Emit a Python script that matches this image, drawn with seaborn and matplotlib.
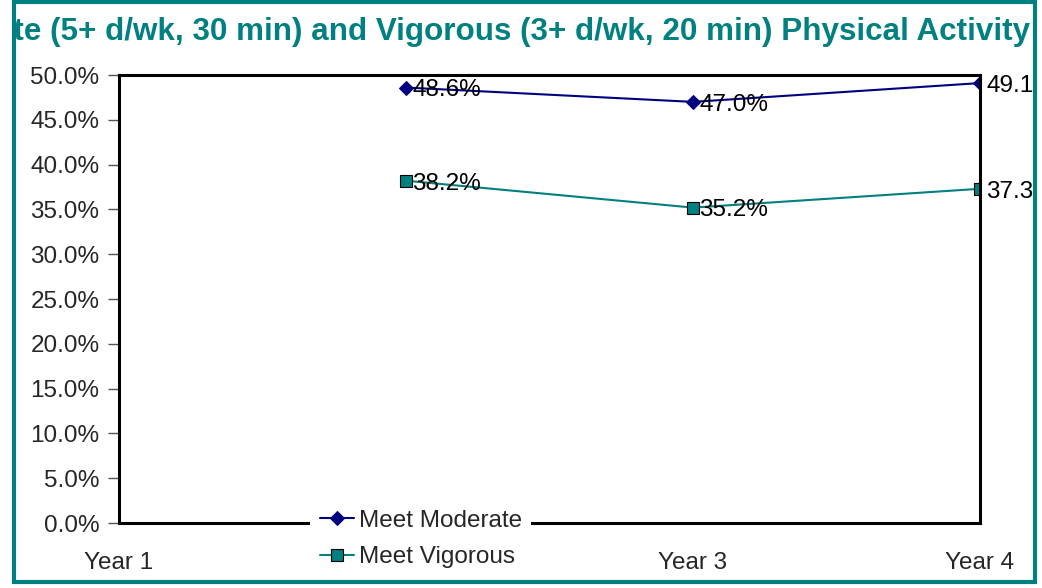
import numpy as np
import pandas as pd
import matplotlib.pyplot as plt
import seaborn as sns
from matplotlib.patches import Rectangle
from matplotlib.ticker import PercentFormatter

# chart values
years = ['Year 1', 'Year 2', 'Year 3', 'Year 4']
data_years = ['Year 2', 'Year 3', 'Year 4']
moderate = [48.6, 47.0, 49.1]
vigorous = [38.2, 35.2, 37.3]
series = ['Meet Moderate', 'Meet Vigorous']
title = 'Meet Moderate (5+ d/wk, 30 min) and Vigorous (3+ d/wk, 20 min) Physical Activity'

teal = '#008080'
navy = '#000080'

df = pd.DataFrame({
    'year': data_years * 2,
    'pct': np.array(moderate + vigorous) / 100,
    'series': [series[0]] * 3 + [series[1]] * 3,
})
df['x'] = df['year'].map(years.index)

sns.set_style('white')
plt.rcParams['font.family'] = ['Liberation Sans', 'DejaVu Sans']

fig = plt.figure(figsize=(10.42, 5.88), dpi=100)
ax = fig.add_axes([119 / 1042, 1 - 523 / 588, 861 / 1042, 448 / 588])

sns.lineplot(data=df, x='x', y='pct', hue='series', style='series',
             markers={series[0]: 'D', series[1]: 's'}, dashes=False,
             palette={series[0]: navy, series[1]: teal},
             linewidth=1.5, legend=False, ax=ax)
ax.lines[0].set_markersize(7.5)
ax.lines[0].set_markeredgecolor(navy)
ax.lines[1].set_markersize(9)
ax.lines[1].set_markeredgecolor('black')
ax.lines[1].set_markeredgewidth(0.8)

ax.set_xlim(0, len(years) - 1)
ax.set_ylim(0, 0.5)
ax.set_xticks(range(len(years)))
ax.set_xticklabels(years)
ax.set_yticks(np.arange(0, 0.51, 0.05))
ax.yaxis.set_major_formatter(PercentFormatter(1.0, decimals=1))
ax.set_xlabel('')
ax.set_ylabel('')
ax.tick_params(axis='y', length=8, width=1, color='#555555', direction='out',
               labelsize=17.5, pad=6, left=True)
ax.tick_params(axis='x', length=0, labelsize=17.5, pad=21)
for sp in ax.spines.values():
    sp.set_color('black')
    sp.set_linewidth(2.2)

# clip region = inside the teal frame
border = Rectangle((13.5 / 1042, 1 - 582 / 588), 1021 / 1042, 580 / 588,
                   transform=fig.transFigure, fill=False, edgecolor=teal,
                   linewidth=3, zorder=10)
fig.add_artist(border)

# data labels, right next to the markers
for vals in (moderate, vigorous):
    for yr, v in zip(data_years, vals):
        t = ax.annotate(f'{v:.1f}%', (years.index(yr), v / 100), xytext=(4.5, -2),
                        textcoords='offset points', ha='left', va='center',
                        fontsize=17.5, color='black', zorder=6, annotation_clip=False)
        t.set_clip_path(border)
        t.set_clip_on(True)

# title, wider than the frame and cut off at both sides
tt = fig.text(1030 / 1042, 1 - 32 / 588, title, ha='right', va='center',
              fontsize=22.6, fontweight='bold', color=teal)
tt.set_clip_path(border)
tt.set_clip_on(True)

leg = ax.legend(handles=ax.lines[:2], labels=series, loc='upper left',
                bbox_to_anchor=(310 / 1042, 1 - 500 / 588), bbox_transform=fig.transFigure,
                frameon=True, facecolor='white', edgecolor='none', framealpha=1,
                fontsize=17.5, handlelength=1.4, handletextpad=0.2,
                labelspacing=0.6, borderpad=0.4, borderaxespad=0, fancybox=False)
leg.set_zorder(8)

fig.savefig('out.png', dpi=100, facecolor='white')
